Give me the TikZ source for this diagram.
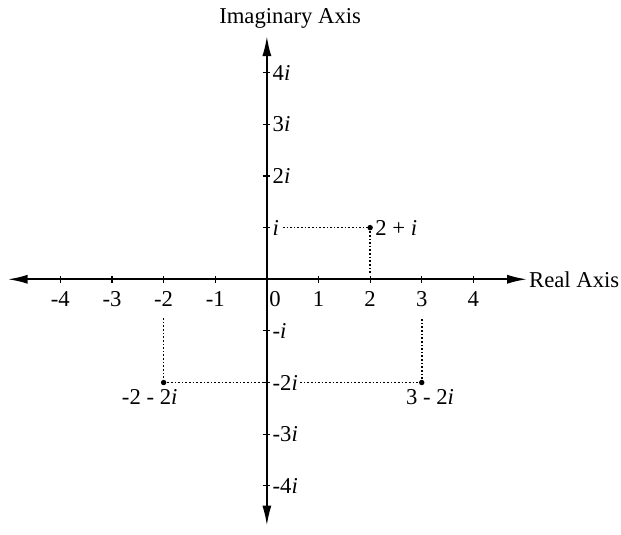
\documentclass[tikz,border=0pt]{standalone}
\usepackage{fontspec}
\setmainfont{Liberation Serif}
\usetikzlibrary{arrows.meta,positioning}

\begin{document}
\begin{tikzpicture}[
        axis/.style={line width=1pt, {Latex[length=11pt,width=5pt]}-{Latex[length=11pt,width=5pt]}},
        tick/.style={line width=0.6pt},
        guide/.style={line width=0.9pt, dash pattern=on 0.9pt off 1.1pt},
        pt/.style={circle, fill=black, inner sep=0pt, minimum size=3pt},
        lbl/.style={font=\fontsize{12.5}{15}\selectfont, inner sep=1pt}
    ]
        \useasboundingbox (-5.17,-4.94) rectangle (6.86,5.41);

        % Axes
        \coordinate (xl) at (-5.02,0);
        \coordinate (xr) at (5.04,0);
        \coordinate (yt) at (0,4.71);
        \coordinate (yb) at (0,-4.77);
        \draw[axis] (xl) -- (xr);
        \draw[axis] (yb) -- (yt);
        \node[lbl, anchor=west] (re) at (5.04,0) {Real Axis};
        \node[lbl] (im) at (0.45,5.06) {Imaginary Axis};

        % Ticks and labels
        \foreach \x/\n in {-4/xm4,-3/xm3,-2/xm2,-1/xm1,1/x1,2/x2,3/x3,4/x4} {
            \draw[tick] (\x,-0.07) -- (\x,0.07);
            \node[lbl] (\n) at (\x,-0.39) {\x};
        }
        \node[lbl] (x0) at (0.16,-0.39) {0};

        \foreach \y/\n/\t in {4/y4/4, 3/y3/3, 2/y2/2, 1/y1/, -1/ym1/-, -2/ym2/-2, -3/ym3/-3, -4/ym4/-4} {
            \draw[tick] (-0.08,\y) -- (0.06,\y);
            \node[lbl, anchor=west] (\n) at (0.07,\y) {\t\textit{i}};
        }

        % Points
        \node[pt] (p1) at (2,1) {};
        \node[pt] (p2) at (-2,-2) {};
        \node[pt] (p3) at (3,-2) {};
        \coordinate (p1foot) at (2,0.12);

        \node[lbl, right=0pt of p1] (l1) {2 + \textit{i}};
        \node[lbl, below=0.03cm of p2, xshift=-0.27cm] (l2) {-2 - 2\textit{i}};
        \node[lbl, below=0.03cm of p3, xshift=0.16cm] (l3) {3 - 2\textit{i}};

        % Guides
        \draw[guide, shorten <=1pt] (y1.east) -- (p1.center);
        \draw[guide] (p1.center) -- (p1foot);
        \draw[guide, shorten <=5pt] (xm2.south) -- (p2.center);
        \draw[guide] (p2.center) -- (ym2.west);
        \draw[guide] (ym2.east) -- (p3.center);
        \draw[guide, shorten >=5pt] (p3.center) -- (x3.south);
    \end{tikzpicture}
\end{document}
